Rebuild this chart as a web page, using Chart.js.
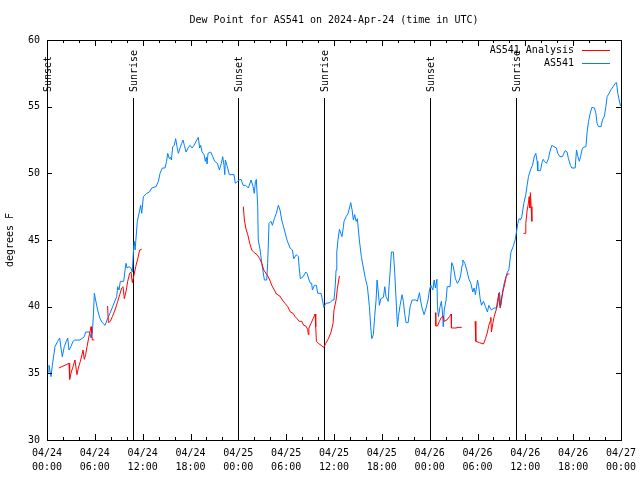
<!DOCTYPE html>
<html>
<head>
<meta charset="utf-8">
<script src="https://cdn.jsdelivr.net/npm/chart.js@4.4.1/dist/chart.umd.min.js"></script>
<style>
  body { margin: 0; background: #fff; }
  canvas { display: block; }
</style>
</head>
<body>
<canvas id="chart" width="640" height="480"></canvas>
<script>
// hours since 04/24 00:00 UTC, dew point in deg F
const stationHours = [
  0.0, 0.16, 0.25, 0.5, 0.67, 1.0, 1.34, 1.59, 1.76, 1.92, 2.17, 2.42, 2.6, 2.76, 3.0, 3.26, 3.5, 4.14, 4.68, 4.85,
  5.35, 5.52, 5.69, 5.85, 5.94, 6.1, 6.35, 6.65, 6.94, 7.28, 7.53, 7.9, 8.3, 8.74, 8.87, 9.03, 9.2, 9.62, 9.79, 9.91,
  10.04, 10.29, 10.54, 10.7, 10.85, 10.95, 11.05, 11.33, 11.58, 11.75, 11.88, 12.09, 12.5, 12.84, 13.13, 13.68, 13.97, 14.18, 14.47, 14.8,
  15.0, 15.14, 15.35, 15.5, 15.6, 15.77, 15.97, 16.14, 16.31, 16.48, 16.69, 16.9, 17.06, 17.23, 17.44, 17.69, 17.94, 18.19, 18.44, 18.7,
  18.98, 19.15, 19.28, 19.45, 19.7, 19.86, 19.99, 20.08, 20.2, 20.54, 20.79, 21.04, 21.37, 21.62, 21.87, 22.04, 22.2, 22.3, 22.37, 22.62,
  22.87, 23.46, 23.63, 23.88, 24.1, 24.34, 24.6, 24.93, 25.26, 25.6, 25.85, 26.0, 26.15, 26.26, 26.43, 26.5, 26.73, 26.94, 27.27, 27.56,
  27.68, 27.85, 28.1, 28.27, 28.52, 28.77, 29.02, 29.23, 29.44, 29.78, 30.1, 30.49, 30.78, 30.95, 31.28, 31.53, 31.62, 31.78, 32.12, 32.46,
  32.62, 32.87, 33.04, 33.2, 33.29, 33.54, 33.79, 33.96, 34.38, 34.55, 34.72, 34.97, 35.5, 35.8, 36.0, 36.15, 36.26, 36.35, 36.5, 36.68,
  36.85, 37.0, 37.18, 37.26, 37.52, 37.77, 37.94, 38.1, 38.27, 38.43, 38.6, 38.77, 38.93, 39.18, 39.43, 39.69, 39.94, 40.19, 40.44, 40.6,
  40.74, 40.94, 41.1, 41.28, 41.4, 41.53, 41.7, 41.87, 42.2, 42.37, 42.53, 42.8, 42.9, 43.04, 43.2, 43.45, 43.62, 43.79, 43.96, 44.08,
  44.29, 44.54, 44.7, 44.88, 45.04, 45.3, 45.55, 45.8, 46.3, 46.45, 46.72, 46.85, 47.05, 47.3, 47.55, 47.8, 47.97, 48.15, 48.4, 48.56,
  48.72, 48.91, 48.98, 49.1, 49.3, 49.47, 49.6, 49.7, 49.83, 50.06, 50.2, 50.56, 50.77, 50.97, 51.23, 51.48, 51.73, 51.9, 52.07, 52.16,
  52.41, 52.66, 52.9, 53.16, 53.41, 53.57, 53.74, 54.0, 54.16, 54.33, 54.5, 54.75, 55.0, 55.25, 55.42, 55.58, 55.75, 56.09, 56.42, 56.59,
  56.75, 56.93, 57.09, 57.25, 57.5, 57.75, 57.93, 58.2, 58.47, 58.72, 58.89, 59.06, 59.22, 59.39, 59.56, 59.81, 60.06, 60.23, 60.39, 60.64,
  60.9, 61.14, 61.31, 61.48, 61.56, 61.9, 62.07, 62.24, 62.4, 62.65, 62.9, 63.07, 63.32, 63.58, 63.9, 64.07, 64.33, 64.66, 64.83, 65.0,
  65.24, 65.41, 65.66, 65.83, 66.25, 66.42, 66.6, 66.77, 66.93, 67.1, 67.26, 67.6, 67.75, 67.93, 68.18, 68.35, 68.67, 68.85, 69.0, 69.17,
  69.5, 69.67, 69.92, 70.1, 70.26, 70.5, 70.77, 71.02, 71.27, 71.44, 71.6, 71.77, 71.94
];
const stationDew = [
  35.2, 35.1, 35.6, 34.75, 35.6, 37.0, 37.4, 37.65, 36.9, 36.25, 37.0, 37.4, 37.65, 36.75, 37.0, 37.4, 37.5, 37.5, 37.75, 38.1,
  38.1, 37.65, 38.0, 39.75, 41.0, 40.5, 39.75, 39.1, 38.8, 38.6, 39.0, 39.5, 40.1, 40.75, 41.5, 41.25, 41.9, 41.9, 42.75, 43.25,
  42.9, 43.0, 42.9, 42.6, 44.25, 44.9, 44.25, 46.4, 47.1, 47.6, 47.0, 48.25, 48.5, 48.6, 48.9, 49.0, 49.4, 50.0, 50.4, 50.4,
  50.9, 51.5, 51.1, 51.2, 51.0, 52.0, 52.1, 52.6, 52.0, 51.5, 51.9, 52.25, 52.5, 52.1, 51.6, 51.9, 52.1, 51.9, 52.1, 52.4,
  52.7, 51.9, 52.1, 51.6, 51.4, 50.9, 51.2, 50.7, 51.5, 51.6, 51.25, 50.9, 50.75, 50.25, 50.75, 51.25, 50.6, 49.9, 51.0, 50.5,
  49.9, 49.9, 49.25, 49.4, 49.5, 49.55, 49.1, 49.1, 48.9, 49.5, 49.0, 48.5, 49.4, 49.55, 47.5, 45.0, 44.25, 43.25, 42.0, 42.0,
  43.25, 46.25, 46.4, 46.1, 46.6, 47.0, 47.6, 47.25, 46.5, 45.75, 45.0, 44.4, 44.25, 43.6, 43.9, 43.75, 43.0, 42.1, 42.25, 42.6,
  42.5, 42.0, 41.75, 41.75, 41.25, 41.6, 41.6, 41.0, 41.0, 40.5, 39.95, 40.25, 40.3, 40.5, 40.5, 41.5, 42.75, 44.1, 45.0, 45.8,
  45.5, 45.25, 46.0, 46.4, 46.75, 47.0, 47.4, 47.8, 47.25, 46.5, 46.9, 46.4, 46.6, 45.0, 43.75, 42.9, 42.1, 41.5, 40.0, 38.5,
  37.6, 37.9, 39.25, 40.5, 42.0, 41.25, 40.1, 40.6, 40.7, 41.5, 40.75, 40.4, 41.5, 42.6, 44.1, 44.1, 42.5, 40.5, 38.5, 39.25,
  40.1, 40.9, 40.4, 39.4, 38.8, 38.8, 40.0, 40.5, 40.5, 40.4, 41.05, 40.5, 39.9, 39.4, 39.9, 40.5, 41.25, 41.6, 41.25, 42.0,
  41.4, 42.05, 40.0, 39.25, 40.0, 40.4, 39.6, 38.5, 39.75, 40.5, 41.5, 41.5, 43.3, 43.0, 42.1, 41.75, 42.0, 42.4, 43.1, 43.5,
  43.25, 42.75, 42.1, 41.75, 41.1, 41.4, 40.9, 42.0, 41.5, 40.6, 40.1, 40.4, 40.0, 39.6, 40.1, 39.9, 39.75, 39.9, 39.9, 40.4,
  41.1, 40.1, 40.9, 41.5, 42.1, 42.6, 42.75, 44.1, 44.5, 45.0, 45.6, 46.25, 46.6, 46.5, 46.75, 47.75, 48.4, 49.1, 49.75, 50.25,
  50.6, 51.3, 51.5, 50.9, 50.2, 50.2, 50.75, 51.05, 50.9, 50.75, 51.1, 51.6, 52.1, 52.0, 51.9, 51.5, 51.25, 51.25, 51.5, 51.7,
  51.6, 51.1, 50.6, 50.4, 50.4, 51.75, 51.25, 50.9, 51.25, 51.75, 51.95, 52.0, 53.1, 53.9, 54.6, 54.95, 54.9, 54.5, 53.75, 53.5,
  53.5, 54.0, 54.3, 55.0, 55.75, 56.0, 56.3, 56.5, 56.75, 56.8, 56.0, 55.5, 55.05
];

// analysis runs, null marks a break between runs
const analysisHours = [
  1.5, 2.76, 2.84, 3.0, 3.26, 3.51, 3.76, 3.93, 4.18, 4.35, 4.52, 4.68, 4.85, 5.02, 5.18, 5.35, 5.52, 5.6, 5.69, 5.94, 6.0,
  7.6, 7.7, 7.94, 8.2, 8.53, 8.87, 9.12, 9.37, 9.54, 9.7, 9.95, 10.12, 10.37, 10.54, 10.7, 10.87, 11.13, 11.38, 11.63, 11.88, 12.0,
  24.63, 24.76, 24.93, 25.18, 25.43, 25.68, 26.0, 26.35, 26.68, 26.94, 27.19, 27.69, 27.94, 28.19, 28.52, 28.77, 29.2, 29.53, 29.86, 30.2,
  30.53, 30.87, 31.12, 31.37, 31.62, 31.95, 32.2, 32.46, 32.7, 32.78, 32.85, 33.12, 33.37, 33.63, 33.71, 33.79, 34.04, 34.38, 34.72, 34.97,
  35.3, 35.63, 35.88, 36.0, 36.26, 36.43, 36.68, 36.8,
  48.72, 48.77, 48.98, 49.22, 49.47, 49.73, 49.81, 50.15, 50.48, 50.7, 50.73, 51.32, 51.4, 52.03, 52.1,
  53.7, 53.79, 54.24, 54.75, 55.0, 55.25, 55.42, 55.58, 55.67, 55.75, 55.92, 56.09, 56.34, 56.5, 56.68, 56.76, 56.84, 57.0, 57.18, 57.43,
  57.6, 57.77, 58.0, 58.1,
  59.77, 59.97, 60.06, 60.23, 60.39, 60.48, 60.57, 60.64, 60.73, 60.82
];
const analysisDew = [
  35.4, 35.75, 34.55, 35.0, 35.5, 36.0, 34.9, 35.4, 35.9, 36.3, 36.75, 36.05, 36.4, 37.0, 37.5, 38.0, 38.5, 38.0, 37.5, 37.5, null,
  40.05, 38.8, 38.9, 39.25, 39.75, 40.4, 40.9, 41.4, 41.5, 40.6, 41.25, 41.9, 42.5, 42.6, 41.8, 42.25, 43.0, 43.6, 44.25, 44.3, null,
  47.5, 46.5, 45.9, 45.4, 44.75, 44.25, 44.05, 43.9, 43.6, 43.25, 42.75, 42.3, 42.0, 41.6, 41.25, 40.95, 40.8, 40.5, 40.25, 40.0,
  39.6, 39.5, 39.25, 39.1, 38.9, 38.9, 38.6, 38.55, 38.3, 37.9, 38.4, 38.75, 39.1, 39.45, 38.5, 37.4, 37.25, 37.1, 36.95, 37.25,
  37.6, 38.1, 38.75, 39.75, 40.5, 41.4, 42.3, null,
  39.55, 38.55, 38.55, 38.9, 39.2, 39.3, 38.9, 39.0, 39.25, 39.45, 38.4, 38.4, 38.45, 38.45, null,
  38.9, 37.4, 37.3, 37.2, 37.6, 38.1, 38.6, 38.9, 39.2, 38.1, 38.75, 39.25, 39.75, 40.4, 41.0, 40.2, 39.9, 40.5, 41.1, 41.75,
  42.25, 42.45, 42.45, null,
  45.5, 45.5, 46.25, 47.25, 47.75, 48.25, 47.4, 48.55, 47.5, 46.4
];

const xTickDates = ['04/24', '04/24', '04/24', '04/24', '04/25', '04/25', '04/25', '04/25', '04/26', '04/26', '04/26', '04/26', '04/27'];
const xTickTimes = ['00:00', '06:00', '12:00', '18:00', '00:00', '06:00', '12:00', '18:00', '00:00', '06:00', '12:00', '18:00', '00:00'];

const sunHours = [0.05, 10.75, 24.0, 34.8, 48.1, 58.8];
const sunLabels = ['Sunset', 'Sunrise', 'Sunset', 'Sunrise', 'Sunset', 'Sunrise'];

const titleText = 'Dew Point for AS541 on 2024-Apr-24 (time in UTC)';
const FONT = '10px "DejaVu Sans Mono", "Liberation Mono", monospace';

const toPoints = (xs, ys) => xs.map((x, i) => ({ x: x, y: ys[i] }));

// gnuplot-ish frame: border, inward ticks, sun lines, title, legend
const frame = {
  id: 'frame',
  beforeDatasetsDraw(chart) {
    const ctx = chart.ctx;
    const a = chart.chartArea;
    const xs = chart.scales.x;
    ctx.save();
    ctx.strokeStyle = '#000';
    ctx.lineWidth = 1;
    ctx.fillStyle = '#000';
    ctx.font = FONT;
    sunHours.forEach((h, i) => {
      const px = Math.round(xs.getPixelForValue(h)) + 0.5;
      ctx.beginPath();
      ctx.moveTo(px, 98);
      ctx.lineTo(px, a.bottom);
      ctx.stroke();
      ctx.save();
      ctx.translate(px + 1, 92);
      ctx.rotate(-Math.PI / 2);
      ctx.textAlign = 'left';
      ctx.textBaseline = 'middle';
      ctx.fillText(sunLabels[i], 0, 0);
      ctx.restore();
    });
    ctx.restore();
  },
  afterDraw(chart) {
    const ctx = chart.ctx;
    const a = chart.chartArea;
    const xs = chart.scales.x;
    const ys = chart.scales.y;
    ctx.save();
    ctx.strokeStyle = '#000';
    ctx.lineWidth = 1;
    ctx.strokeRect(Math.round(a.left) + 0.5, Math.round(a.top) + 0.5,
      Math.round(a.right - a.left), Math.round(a.bottom - a.top));

    ctx.beginPath();
    for (let h = 0; h <= 72; h += 2) {
      const px = Math.round(xs.getPixelForValue(h)) + 0.5;
      const len = h % 6 === 0 ? 6 : 3;
      ctx.moveTo(px, a.bottom); ctx.lineTo(px, a.bottom - len);
      ctx.moveTo(px, a.top); ctx.lineTo(px, a.top + len);
    }
    for (let v = 30; v <= 60; v += 5) {
      const py = Math.round(ys.getPixelForValue(v)) + 0.5;
      ctx.moveTo(a.left, py); ctx.lineTo(a.left + 5, py);
      ctx.moveTo(a.right, py); ctx.lineTo(a.right - 5, py);
    }
    ctx.stroke();

    ctx.fillStyle = '#000';
    ctx.font = FONT;
    ctx.textAlign = 'center';
    ctx.textBaseline = 'middle';
    ctx.fillText(titleText, (a.left + a.right) / 2, 20);

    // legend
    ctx.textAlign = 'right';
    chart.data.datasets.forEach((ds, i) => {
      const y = 50 + i * 13;
      ctx.fillStyle = '#000';
      ctx.fillText(ds.label, 574, y);
      ctx.strokeStyle = ds.borderColor;
      ctx.beginPath();
      ctx.moveTo(582, y + 0.5);
      ctx.lineTo(610, y + 0.5);
      ctx.stroke();
    });
    ctx.restore();
  }
};

new Chart(document.getElementById('chart'), {
  type: 'line',
  data: {
    datasets: [
      {
        label: 'AS541 Analysis',
        data: toPoints(analysisHours, analysisDew),
        borderColor: '#ff0000',
        borderWidth: 1,
        pointRadius: 0,
        tension: 0,
        spanGaps: false
      },
      {
        label: 'AS541',
        data: toPoints(stationHours, stationDew),
        borderColor: '#0080ff',
        borderWidth: 1,
        pointRadius: 0,
        tension: 0
      }
    ]
  },
  options: {
    responsive: false,
    animation: false,
    events: [],
    layout: { padding: { left: 0, right: 19, top: 40, bottom: 0 } },
    plugins: {
      legend: { display: false },
      title: { display: false },
      tooltip: { enabled: false }
    },
    scales: {
      x: {
        type: 'linear',
        min: 0,
        max: 72,
        grid: { display: false, drawTicks: false },
        border: { display: false },
        afterFit(scale) {
          scale.height = 40;
          scale.paddingLeft = 0;
          scale.paddingRight = 0;
        },
        ticks: {
          stepSize: 6,
          autoSkip: false,
          maxRotation: 0,
          padding: 6,
          color: '#000',
          font: { family: '"DejaVu Sans Mono", monospace', size: 10, lineHeight: 1.4 },
          callback: (v) => [xTickDates[v / 6], xTickTimes[v / 6]]
        }
      },
      y: {
        min: 30,
        max: 60,
        grid: { display: false, drawTicks: false },
        border: { display: false },
        afterFit(scale) { scale.width = 47; },
        title: {
          display: true,
          text: 'degrees F',
          color: '#000',
          font: { family: '"DejaVu Sans Mono", monospace', size: 10 }
        },
        ticks: {
          stepSize: 5,
          padding: 7,
          color: '#000',
          font: { family: '"DejaVu Sans Mono", monospace', size: 10 }
        }
      }
    }
  },
  plugins: [frame]
});
</script>
</body>
</html>
